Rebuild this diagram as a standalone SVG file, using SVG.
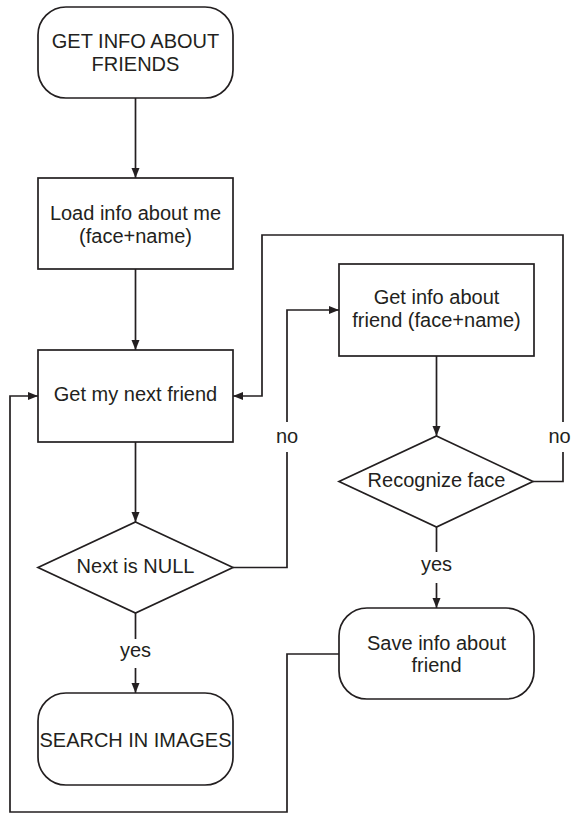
<svg xmlns="http://www.w3.org/2000/svg" width="571" height="814" viewBox="0 0 571 814">
<style>
.shape{fill:#fff;stroke:#231f20;stroke-width:1.7}
.line{fill:none;stroke:#231f20;stroke-width:1.7}
text{font-family:"Liberation Sans",Arial,sans-serif;font-size:20px;fill:#231f20;text-anchor:middle}
</style>
<defs>
<marker id="arr" markerUnits="userSpaceOnUse" markerWidth="10" markerHeight="10" viewBox="0 0 10 10" refX="10" refY="5" orient="auto">
<path d="M0,1 L10,5 L0,9 Z" fill="#231f20"/>
</marker>
</defs>
<rect width="571" height="814" fill="#fff"/>
<g id="connectors">
<line class="line" x1="135.5" y1="98" x2="135.5" y2="178" marker-end="url(#arr)"/>
<line class="line" x1="135.5" y1="269" x2="135.5" y2="350" marker-end="url(#arr)"/>
<line class="line" x1="135.5" y1="442" x2="135.5" y2="522" marker-end="url(#arr)"/>
<line class="line" x1="135.5" y1="613" x2="135.5" y2="639"/>
<line class="line" x1="135.5" y1="668" x2="135.5" y2="693" marker-end="url(#arr)"/>
<polyline class="line" points="233,567.5 287,567.5 287,452"/>
<polyline class="line" points="287,422 287,310 339,310" marker-end="url(#arr)"/>
<line class="line" x1="436.5" y1="356" x2="436.5" y2="436" marker-end="url(#arr)"/>
<line class="line" x1="436.5" y1="527" x2="436.5" y2="552"/>
<line class="line" x1="436.5" y1="583" x2="436.5" y2="608" marker-end="url(#arr)"/>
<polyline class="line" points="533,481.5 563,481.5 563,452"/>
<polyline class="line" points="563,422 563,235 262,235 262,396 233,396" marker-end="url(#arr)"/>
<polyline class="line" points="339,654 287,654 287,812 10,812 10,396 38,396" marker-end="url(#arr)"/>
<text x="287" y="443">no</text>
<text x="559.5" y="443">no</text>
<text x="135.5" y="657">yes</text>
<text x="436.5" y="571">yes</text>
</g>
<g id="start">
<rect class="shape" x="38" y="7" width="195" height="91" rx="28"/>
<text x="135.5" y="48">GET INFO ABOUT</text>
<text x="135.5" y="71">FRIENDS</text>
</g>
<g id="load">
<rect class="shape" x="38" y="178" width="195" height="91"/>
<text x="135.5" y="220">Load info about me</text>
<text x="135.5" y="243">(face+name)</text>
</g>
<g id="next">
<rect class="shape" x="38" y="350" width="195" height="92"/>
<text x="135.5" y="401">Get my next friend</text>
</g>
<g id="isnull">
<polygon class="shape" points="135.5,522 233,567.5 135.5,613 38,567.5"/>
<text x="135.5" y="573">Next is NULL</text>
</g>
<g id="search">
<rect class="shape" x="38" y="693" width="195" height="92" rx="28"/>
<text x="135.5" y="747" textLength="192" lengthAdjust="spacingAndGlyphs">SEARCH IN IMAGES</text>
</g>
<g id="getinfo">
<rect class="shape" x="339" y="264" width="195" height="92"/>
<text x="436.5" y="304">Get info about</text>
<text x="436.5" y="327">friend (face+name)</text>
</g>
<g id="recognize">
<polygon class="shape" points="436.5,436 533,481.5 436.5,527 339,481.5"/>
<text x="436.5" y="487">Recognize face</text>
</g>
<g id="save">
<rect class="shape" x="339" y="608" width="195" height="91" rx="28"/>
<text x="436.5" y="650">Save info about</text>
<text x="436.5" y="672">friend</text>
</g>
</svg>
